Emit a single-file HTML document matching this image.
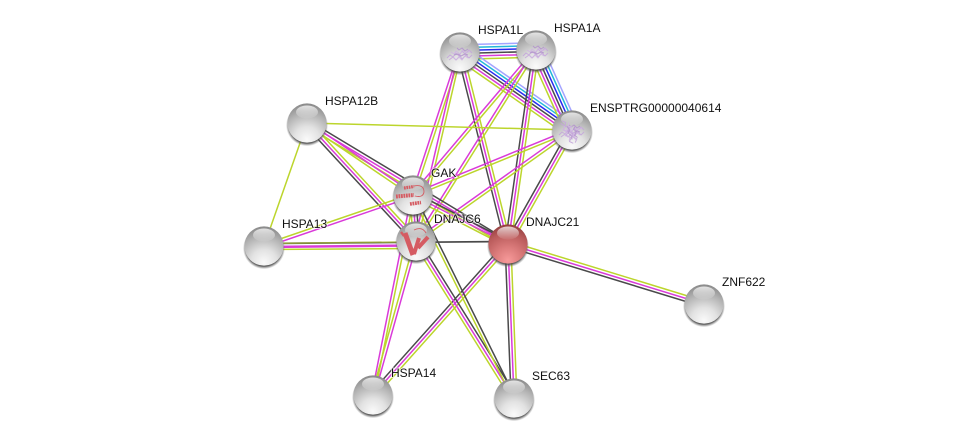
<!DOCTYPE html>
<html>
<head>
<meta charset="utf-8">
<style>
html,body{margin:0;padding:0;background:#fff;width:975px;height:443px;overflow:hidden}
svg{display:block}
text{font-family:"Liberation Sans",Arial,sans-serif;font-size:12px;fill:#111;paint-order:stroke;stroke:#fff;stroke-opacity:.6;stroke-width:2px}
</style>
</head>
<body>
<svg xmlns="http://www.w3.org/2000/svg" width="975" height="443" viewBox="0 0 975 443">
<defs>
<radialGradient id="g" cx="50%" cy="92%" r="95%" fx="50%" fy="92%">
<stop offset="0" stop-color="#fafafa"/><stop offset=".35" stop-color="#e2e2e2"/><stop offset=".72" stop-color="#b0b0b0"/><stop offset="1" stop-color="#838383"/>
</radialGradient>
<radialGradient id="r" cx="50%" cy="92%" r="95%" fx="50%" fy="92%">
<stop offset="0" stop-color="#f79a9a"/><stop offset=".35" stop-color="#dc7c7c"/><stop offset=".72" stop-color="#b95b5b"/><stop offset="1" stop-color="#8e3a3a"/>
</radialGradient>
<linearGradient id="h" x1="0" y1="0" x2="0" y2="1">
<stop offset="0" stop-color="#fff" stop-opacity=".75"/><stop offset="1" stop-color="#fff" stop-opacity=".05"/>
</linearGradient>
<radialGradient id="s" cx="50%" cy="50%" r="50%">
<stop offset=".86" stop-color="#444" stop-opacity=".85"/><stop offset="1" stop-color="#777" stop-opacity="0"/>
</radialGradient>
<g id="lav" fill="none" stroke="#c4a6da" stroke-width="1" stroke-linejoin="round" stroke-opacity=".9">
<path d="M-13 5 l3 -3 l3 2 l3 -4 l3 3 l3 -5 l3 3 l4 -4 l3 3 M-11 7 l4 -3 l3 3 l4 -4 l2 3 l4 -4 l3 3 l3 -3"/>
<path d="M-9 -1 l3 2 l2 -3 l4 3 l3 -4 l3 3 l4 -2 M-7 4 l3 3 l3 -3 l3 3 l3 -4 l3 2" stroke="#cfb6e1"/>
<path d="M-3 -5 l2 2 l3 -2 l3 3 l3 -2 M-6 2 l4 -1 l3 2 l4 -2 l3 1" stroke="#b394cc"/>
</g>
</defs>

<g id="edges" fill="none" stroke-width="1.5"></g>
<g fill="none">
<line x1="264" y1="243.5" x2="508" y2="241.5" stroke="#4a4a4a" stroke-width="1.7"/>
<line x1="264" y1="243.5" x2="416" y2="241.8" stroke="#bcd52c" stroke-width="1.5" stroke-opacity=".6"/>
<line x1="264" y1="247" x2="416" y2="245.5" stroke="#d93ad9" stroke-width="2.4"/>
<line x1="264" y1="249.5" x2="416" y2="248.5" stroke="#bcd52c" stroke-width="1.5"/>
</g>

<g id="nodes"></g>

<g id="decals">
<use href="#lav" x="460" y="53"/>
<use href="#lav" x="536" y="51"/>
<use href="#lav" x="572" y="130"/>
<use href="#lav" x="572" y="132" transform="rotate(70 572 131)"/>
<g fill="none" stroke="#d55b62" stroke-linecap="butt">
<path d="M396 196.5 L414 195" stroke-width="4" stroke-dasharray="1.8 .7"/>
<path d="M404 188 L414 186.5" stroke-width="3.2" stroke-dasharray="1.7 .7"/>
<path d="M410 204 L421 202.5" stroke-width="3.6" stroke-dasharray="1.8 .7"/>
<path d="M414 186 q10 -2 10 6 q-1 6 -9 4" stroke-width=".9"/>
<path d="M405 233 L413 255" stroke-width="5"/>
<path d="M414 254 L419 238" stroke-width="4"/>
<path d="M418 248 L428 237" stroke-width="4"/>
<path d="M401 232 l3 4" stroke-width="2.4"/>
<path d="M414 230 q8 -4 12 3" stroke-width=".9"/>
</g>
</g>

<text x="478" y="34">HSPA1L</text>
<text x="554" y="32">HSPA1A</text>
<text x="590" y="112">ENSPTRG00000040614</text>
<text x="325" y="105">HSPA12B</text>
<text x="431" y="177">GAK</text>
<text x="434" y="223">DNAJC6</text>
<text x="526" y="226">DNAJC21</text>
<text x="282" y="228">HSPA13</text>
<text x="722" y="286">ZNF622</text>
<text x="391" y="377">HSPA14</text>
<text x="532" y="380">SEC63</text>
</svg>
<script>
var N={L:[460,52],A:[536,50],E:[572,130],B:[307,123],G:[413,195],C:[416,241],D:[508,244],T:[264,246],Z:[704,304],F:[373,395],S:[514,398]};
var col={y:"#bcd52c",m:"#d93ad9",k:"#4a4a4a",b:"#2a2af0",c:"#25b8d8",l:"#a4a4ff"};
var E=[
["L","A","ymkbcl"],["L","E","ymkbcl"],["A","E","ymkbcl"],
["L","D","kmy"],["A","D","ymk"],["E","D","ymk"],
["L","G","ym"],["L","C","ym"],["A","G","ym"],["A","C","ym"],["E","G","ym"],["E","C","ym"],
["B","E","y"],["B","T","y"],
["B","D","ymk"],["B","G","ym"],["B","C","kmy"],
["T","G","my"],
["G","D","ymk"],["G","C","ymk"],
["G","F","ym"],["C","F","my"],["D","F","ymk"],
["C","S","ymk"],["G","S","yk"],["D","S","kmy"],["D","Z","kmy"]
];
var NS="http://www.w3.org/2000/svg";
var eg=document.getElementById("edges");
E.forEach(function(e){
  var a=N[e[0]],b=N[e[1]],dx=b[0]-a[0],dy=b[1]-a[1],l=Math.hypot(dx,dy),nx=-dy/l,ny=dx/l;
  if(ny>0){nx=-nx;ny=-ny;}
  var s=e[2],n=s.length;
  for(var i=0;i<n;i++){
    var o=(i-(n-1)/2)*2.9;
    var p=document.createElementNS(NS,"line");
    p.setAttribute("x1",a[0]+nx*o);p.setAttribute("y1",a[1]+ny*o);
    p.setAttribute("x2",b[0]+nx*o);p.setAttribute("y2",b[1]+ny*o);
    p.setAttribute("stroke",col[s[i]]);
    eg.appendChild(p);
  }
});
var ng=document.getElementById("nodes");
Object.keys(N).forEach(function(k){
  var x=N[k][0],y=N[k][1],f=k=="D"?"r":"g";
  ng.insertAdjacentHTML("beforeend",
   '<circle cx="'+x+'" cy="'+(y+2.2)+'" r="21" fill="url(#s)"/>'+
   '<circle cx="'+x+'" cy="'+y+'" r="19.6" fill="url(#'+f+')"/>'+
   '<ellipse cx="'+x+'" cy="'+(y-11)+'" rx="11" ry="6.5" fill="url(#h)"/>');
});
</script>
</body>
</html>
